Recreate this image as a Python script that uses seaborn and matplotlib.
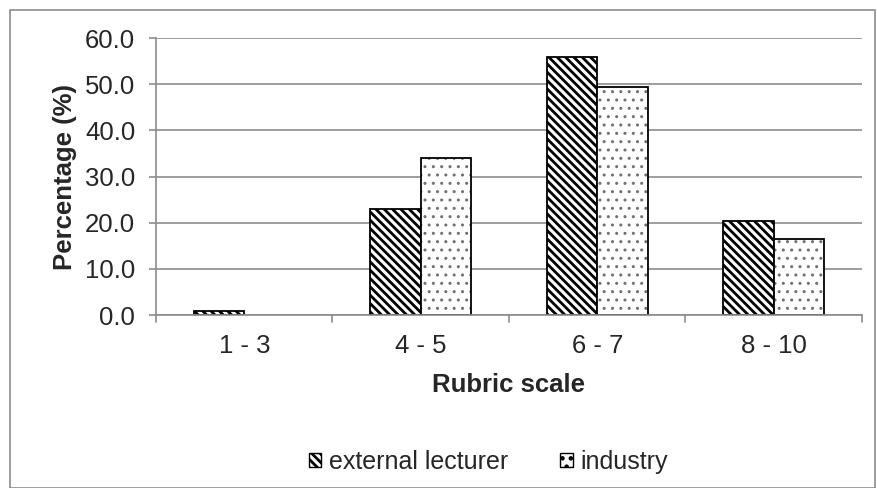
import pandas as pd
import seaborn as sns
import matplotlib.pyplot as plt
from matplotlib.patches import Rectangle, Patch

# data
categories = ['1 - 3', '4 - 5', '6 - 7', '8 - 10']
external_lecturer = [0.9, 23.0, 56.0, 20.3]
industry = [0.0, 34.0, 49.5, 16.5]
series_names = ['external lecturer', 'industry']

df = pd.DataFrame({
    'scale': categories * 2,
    'pct': external_lecturer + industry,
    'group': [series_names[0]] * 4 + [series_names[1]] * 4,
})

sns.set_style('white')
plt.rcParams['font.family'] = ['Liberation Sans', 'DejaVu Sans']
plt.rcParams['hatch.linewidth'] = 2.0

fig = plt.figure(figsize=(8.78, 4.88), dpi=100)
ax = fig.add_axes([0.1777, 0.3545, 0.804, 0.5675])

sns.barplot(data=df, x='scale', y='pct', hue='group', ax=ax,
            width=0.57, color='white', edgecolor='black', linewidth=1.3,
            legend=False)

hatches = {series_names[0]: '\\\\\\\\', series_names[1]: '..'}
hatch_lw = {series_names[0]: 2.0, series_names[1]: 1.0}
n = len(categories)
for i, bar in list(enumerate(ax.patches[:2 * n])):
    name = series_names[i // n]
    bar.set_facecolor('white')
    bar.set_hatch(hatches[name])
    if hasattr(bar, 'set_hatch_linewidth'):
        bar.set_hatch_linewidth(hatch_lw[name])
    if name == 'industry':
        # grey dots, black outline drawn on top
        bar.set_edgecolor('#707070')
        bar.set_linewidth(0)
        if bar.get_height() > 0:
            x0, y0 = bar.get_xy()
            ax.add_patch(Rectangle((x0, y0), bar.get_width(), bar.get_height(),
                                   fill=False, edgecolor='black', linewidth=1.3,
                                   zorder=bar.get_zorder() + 0.1))
    else:
        bar.set_edgecolor('black')

ax.set_ylim(0, 60)
ax.set_xlim(-0.5, n - 0.5)
ax.set_yticks(range(0, 61, 10))
ax.set_yticklabels([f'{v:.1f}' for v in range(0, 61, 10)])
ax.yaxis.grid(True, color='#8c8c8c', linewidth=1.2)
ax.set_axisbelow(True)

for s in ['top', 'right']:
    ax.spines[s].set_visible(False)
for s in ['left', 'bottom']:
    ax.spines[s].set_color('#8c8c8c')
    ax.spines[s].set_linewidth(1.2)

ax.tick_params(axis='y', left=True, length=5, color='#8c8c8c', width=1.2,
               labelsize=18.5, pad=10)
ax.tick_params(axis='x', bottom=False, labelsize=18.5, pad=10)
# category boundary ticks on the x axis
for b in range(n + 1):
    ax.plot([b - 0.5, b - 0.5], [0, -1.6], color='#8c8c8c', lw=1.2,
            clip_on=False)

ax.set_xlabel('Rubric scale', fontsize=18.5, fontweight='bold', labelpad=11)
ax.set_ylabel('Percentage (%)', fontsize=18.5, fontweight='bold', labelpad=6)

handles = [Patch(facecolor='white', edgecolor='black', hatch=hatches[s],
                 label=s) for s in series_names]
fig.legend(handles=handles, loc='center', bbox_to_anchor=(0.556, 0.053),
           ncol=2, frameon=False, fontsize=18, handlelength=0.5,
           handleheight=0.5, handletextpad=0.3, columnspacing=2.1)

# outer chart border
fig.patches.append(Rectangle((0.0114, 0.0), 0.985, 0.9795,
                             transform=fig.transFigure, fill=False,
                             edgecolor='#8c8c8c', linewidth=1.2))

fig.savefig('out.png', dpi=100)
